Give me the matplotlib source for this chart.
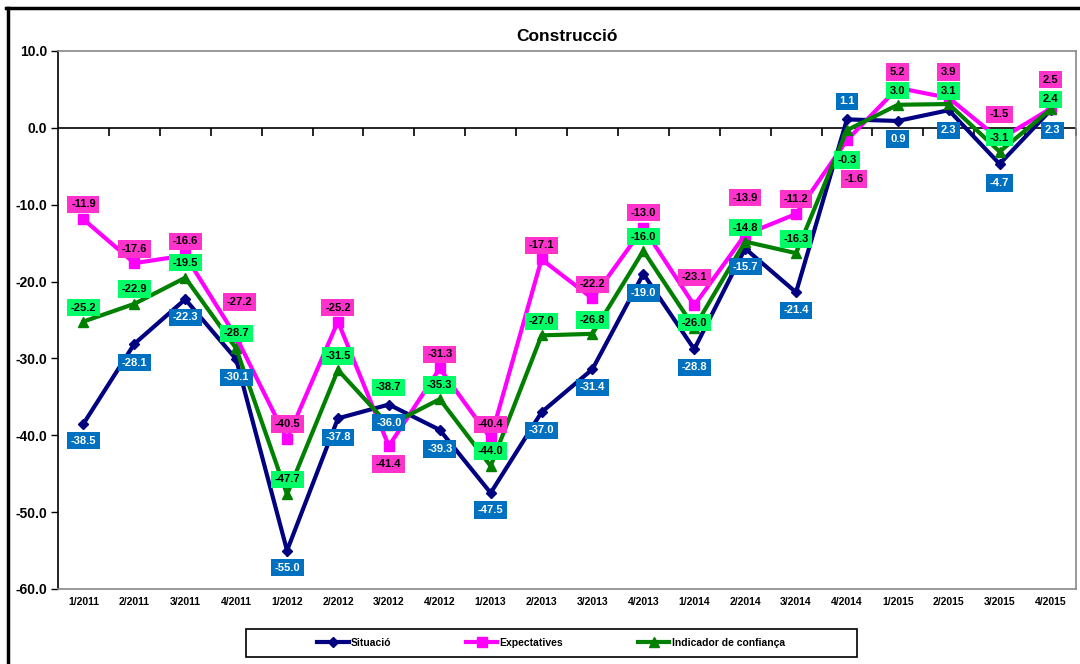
import matplotlib.pyplot as plt
from matplotlib.lines import Line2D
from matplotlib.patches import Rectangle

# ---------------------------------------------------------------------------------
# Data
# ---------------------------------------------------------------------------------

quarters = ['1/2011', '2/2011', '3/2011', '4/2011', '1/2012', '2/2012', '3/2012', '4/2012',
            '1/2013', '2/2013', '3/2013', '4/2013', '1/2014', '2/2014', '3/2014', '4/2014',
            '1/2015', '2/2015', '3/2015', '4/2015']

situacio = [-38.5, -28.1, -22.3, -30.1, -55.0, -37.8, -36.0, -39.3, -47.5, -37.0,
            -31.4, -19.0, -28.8, -15.7, -21.4, 1.1, 0.9, 2.3, -4.7, 2.3]
expectatives = [-11.9, -17.6, -16.6, -27.2, -40.5, -25.2, -41.4, -31.3, -40.4, -17.1,
                -22.2, -13.0, -23.1, -13.9, -11.2, -1.6, 5.2, 3.9, -1.5, 2.5]
indicador = [-25.2, -22.9, -19.5, -28.7, -47.7, -31.5, -38.7, -35.3, -44.0, -27.0,
             -26.8, -16.0, -26.0, -14.8, -16.3, -0.3, 3.0, 3.1, -3.1, 2.4]

# label placement (pixels, + is downward), as placed in the original
sit_dy = [17, 19, 18, 18, 17, 19, 18, 19, 17, 18, 18, 19, 18, 18, 18, -18, 18, 20, 19, 20]
exp_dy = [-15, -14, -14, -35, -15, -14, 18, -14, -14, -14, -14, -15, -28, -37, -15, 39, -16, -26, -25, -29]
ind_dy = [-14, -15, -15, -15, -15, -14, -38, -14, -15, -14, -14, -14, -5, -14, -14, 30, -14, -13, -14, -10]
exp_dx = {3: 3, 15: 7}
sit_dx = {19: 2}

plt.rcParams['font.family'] = ['Liberation Sans', 'DejaVu Sans']
plt.rcParams['font.weight'] = 'bold'

W, H = 1080, 664
fig = plt.figure(figsize=(W / 100, H / 100), dpi=100)
ax = fig.add_axes([58 / W, 1 - 589 / H, (1076 - 58) / W, (589 - 51) / H])

x = list(range(len(quarters)))
series = [
    ('Situació', situacio, '#000080', 'D', 5, '#0070C0', 'white', sit_dy, sit_dx),
    ('Expectatives', expectatives, '#FF00FF', 's', 7, '#FF33CC', 'black', exp_dy, exp_dx),
    ('Indicador de confiança', indicador, '#008000', '^', 7, '#00FF66', 'black', ind_dy, {}),
]

handles = []
for name, vals, col, mk, ms, _, _, _, _ in series:
    h, = ax.plot(x, vals, color=col, lw=3, marker=mk, ms=ms, mec=col, mfc=col,
                 label=name, zorder=3, solid_joinstyle='miter')
    handles.append(h)

for name, vals, col, mk, ms, boxc, txtc, dys, dxs in series:
    for i, v in enumerate(vals):
        ax.annotate(f'{v:.1f}', (i, v), xytext=(dxs.get(i, 0) * 0.72, -dys[i] * 0.72),
                    textcoords='offset points', ha='center', va='center',
                    fontsize=8, fontweight='bold', color=txtc, zorder=5,
                    bbox=dict(boxstyle='square,pad=0.33', fc=boxc, ec='none'))

ax.set_xlim(-0.5, len(quarters) - 0.5)
ax.set_ylim(-60, 10)
ax.set_yticks(range(-60, 11, 10))
ax.set_yticklabels([f'{t:.1f}' for t in range(-60, 11, 10)], fontsize=10, fontweight='bold')
ax.set_xticks(x)
ax.set_xticklabels(quarters, fontsize=7.5, fontweight='bold')
ax.tick_params(axis='x', length=0, pad=6)
ax.tick_params(axis='y', length=5, direction='out', width=1, pad=3)

for s in ['top', 'right', 'bottom']:
    ax.spines[s].set_color('#888888')
    ax.spines[s].set_linewidth(1.2)
ax.spines['left'].set_color('black')
ax.spines['left'].set_linewidth(1.2)

# category axis crosses at zero
ax.axhline(0, color='black', lw=1.2, zorder=2)
ax.plot([i + 0.5 for i in x], [0] * len(x), ls='none', marker=3, ms=6, mew=1.2,
        color='black', zorder=2, clip_on=False)

ax.set_title('Construcció', fontsize=12.5, fontweight='bold', pad=7)

# legend with its own box
leg = fig.legend(handles=handles, loc='center', bbox_to_anchor=(551 / W, 1 - 643 / H),
                 ncol=3, frameon=False, handlelength=3.0, handletextpad=0.2,
                 columnspacing=7.2, prop={'weight': 'bold', 'size': 7.5})
fig.patches.append(Rectangle((246 / W, 1 - 657 / H), (857 - 246) / W, 28 / H,
                             transform=fig.transFigure, fill=False, ec='black', lw=1.2))

# outer chart frame (left and top edges visible)
fig.add_artist(Line2D([7.5 / W, 7.5 / W], [0, 1 - 8 / H], color='black', lw=2.5,
                      transform=fig.transFigure))
fig.add_artist(Line2D([6 / W, 1], [1 - 8 / H, 1 - 8 / H], color='black', lw=2.5,
                      transform=fig.transFigure))

fig.savefig('out.png', dpi=100)
